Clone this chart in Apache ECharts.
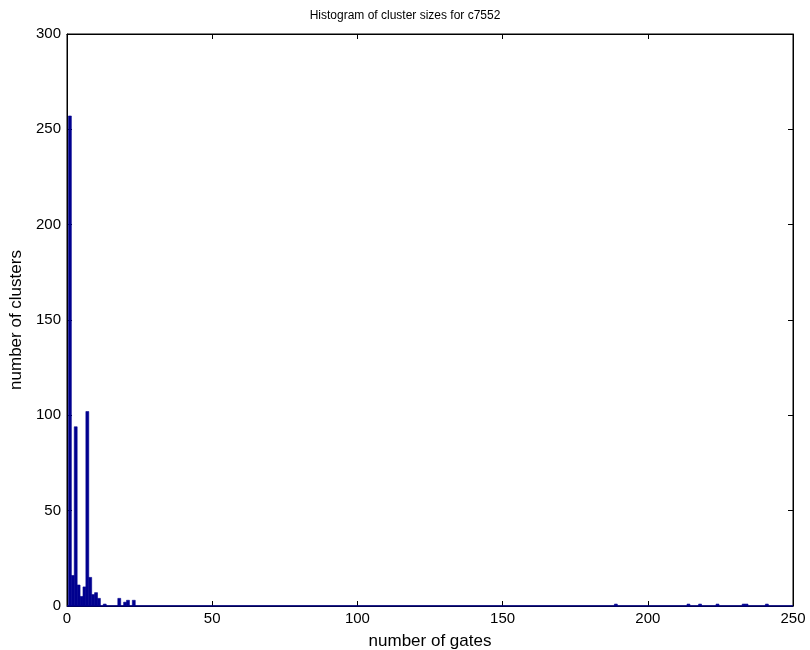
<!DOCTYPE html>
<html><head><meta charset="utf-8">
<script src="https://cdn.jsdelivr.net/npm/echarts@6/dist/echarts.min.js"></script>
<style>html,body{margin:0;padding:0;background:#fff}#c{width:810px;height:650px}</style>
</head><body><div id="c"></div>
<script>
const clusterSizes = [1, 2, 3, 4, 5, 6, 7, 8, 9, 10, 11, 13, 18, 20, 21, 23, 189, 214, 218, 224, 233, 234, 241];
const clusterCounts = [257, 16, 94, 11, 5, 10, 102, 15, 6, 7, 4, 1, 4, 2, 3, 3, 1, 1, 1, 1, 1, 1, 1];
const xTicks = [0, 50, 100, 150, 200, 250];
const yTicks = [0, 50, 100, 150, 200, 250, 300];
const binWidth = 1;

const data = clusterSizes.map((s, i) => [s, clusterCounts[i]]);
const font = 'Liberation Sans, Arial, Helvetica, sans-serif';
const chart = echarts.init(document.getElementById('c'), null, {renderer: 'canvas'});
function ax(extra) {
  return Object.assign({
    axisLine: {show: true, onZero: false, lineStyle: {color: '#000', width: 1}},
    axisTick: {show: true, inside: true, length: 5, lineStyle: {color: '#000'}},
    splitLine: {show: false}
  }, extra);
}
chart.setOption({
  animation: false,
  backgroundColor: '#fff',
  title: {text: 'Histogram of cluster sizes for c7552', left: 'center', top: 5,
    textStyle: {fontFamily: font, fontSize: 12, fontWeight: 'normal', color: '#000'}},
  grid: {left: 67, right: 17, top: 34, bottom: 44, containLabel: false, outerBoundsMode: 'none',
    show: true, borderColor: '#000', borderWidth: 1, backgroundColor: 'transparent'},
  xAxis: [
    ax({type: 'value', min: xTicks[0], max: xTicks[xTicks.length-1], interval: 50, position: 'bottom',
      name: 'number of gates', nameLocation: 'middle', nameGap: 27,
      nameTextStyle: {fontFamily: font, fontSize: 17, color: '#000'},
      axisLabel: {fontFamily: font, fontSize: 15, color: '#000', margin: 5}}),
    ax({type: 'value', min: xTicks[0], max: xTicks[xTicks.length-1], interval: 50, position: 'top', axisLabel: {show: false}})
  ],
  yAxis: [
    ax({type: 'value', min: yTicks[0], max: yTicks[yTicks.length-1], interval: 50, position: 'left',
      name: 'number of clusters', nameLocation: 'middle', nameGap: 41,
      nameTextStyle: {fontFamily: font, fontSize: 17, color: '#000'},
      axisLabel: {fontFamily: font, fontSize: 15, color: '#000', margin: 6}}),
    ax({type: 'value', min: yTicks[0], max: yTicks[yTicks.length-1], interval: 50, position: 'right', axisLabel: {show: false}})
  ],
  series: [{
    type: 'custom',
    xAxisIndex: 0, yAxisIndex: 0,
    data: data,
    renderItem: function (params, api) {
      const x = api.value(0), y = api.value(1);
      const p1 = api.coord([x - binWidth / 2, y]);
      const p2 = api.coord([x + binWidth / 2, 0]);
      return {type: 'rect', shape: {x: p1[0], y: p1[1], width: p2[0] - p1[0], height: p2[1] - p1[1]},
        style: {fill: '#00008f', stroke: '#00008f', lineWidth: 0.6}};
    }
  }, {
    type: 'line', xAxisIndex: 1, yAxisIndex: 1, data: [[0,0],[250,0]], symbol: 'none',
    lineStyle: {color: '#00008f', width: 1.5}, silent: true
  }]
});
</script></body></html>
